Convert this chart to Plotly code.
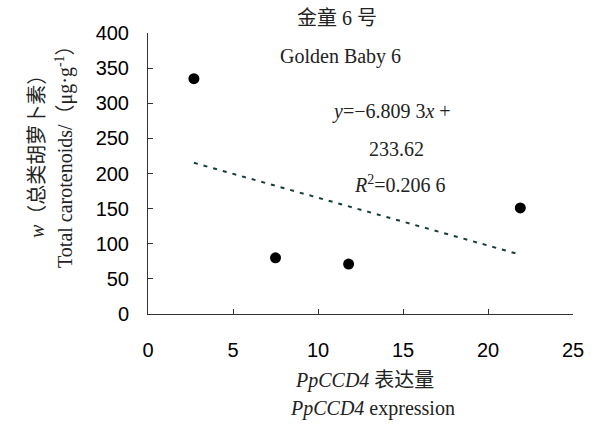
import plotly.graph_objects as go

# Data
expr = [2.7, 7.5, 11.8, 21.9]
carot = [335, 80, 71, 151]
slope = -6.8093
intercept = 233.62
trend_x = [min(expr), max(expr)]
trend_y = [slope * v + intercept for v in trend_x]

xticks = [0, 5, 10, 15, 20, 25]
yticks = [0, 50, 100, 150, 200, 250, 300, 350, 400]

SERIF = "Liberation Serif, Times New Roman, Noto Sans CJK SC, serif"
SANS = "Liberation Sans, Arial, sans-serif"
TXT = "#222222"

fig = go.Figure()
fig.add_trace(go.Scatter(x=trend_x, y=trend_y, mode="lines",
                         line=dict(color="#163c3c", width=2, dash="4px,6px"),
                         hoverinfo="skip", showlegend=False))
fig.add_trace(go.Scatter(x=expr, y=carot, mode="markers",
                         marker=dict(color="black", size=11),
                         showlegend=False))

fig.update_layout(
    width=598, height=428,
    margin=dict(l=148, r=25, t=33, b=114),
    paper_bgcolor="white", plot_bgcolor="white",
    xaxis=dict(range=[0, 25], tickvals=xticks, ticks="inside", ticklen=5,
               tickcolor="#333", showline=True, linecolor="#333", linewidth=1,
               showgrid=False, zeroline=False, ticklabelstandoff=18,
               tickfont=dict(family=SANS, size=20, color="black")),
    yaxis=dict(range=[0, 400], tickvals=yticks, ticks="inside", ticklen=5,
               tickcolor="#333", showline=True, linecolor="#333", linewidth=1,
               showgrid=False, zeroline=False, ticklabelstandoff=14,
               tickfont=dict(family=SANS, size=20, color="black")),
)

anns = [
    dict(text="金童 6 号", x=337, y=18),
    dict(text="Golden Baby 6", x=340, y=57),
    dict(text="<i>y</i>=−6.809 3<i>x</i> +", x=391, y=111),
    dict(text="233.62", x=396, y=149),
    dict(text="<i>R</i><sup>2</sup>=0.206 6", x=400, y=184),
    dict(text="<i>PpCCD4</i> 表达量", x=364, y=380),
    dict(text="<i>PpCCD4</i> expression", x=372, y=408),
]
for a in anns:
    fig.add_annotation(text=a["text"], xref="paper", yref="paper",
                       x=(a["x"] - 148) / (573 - 148),
                       y=(314 - a["y"]) / (314 - 33),
                       xanchor="center", yanchor="middle", showarrow=False,
                       font=dict(family=SERIF, size=20, color=TXT))

for txt, px in [("<i>w</i>（总类胡萝卜素）", 37), ("Total carotenoids/（μg·g<sup>-1</sup>）", 64)]:
    fig.add_annotation(text=txt, xref="paper", yref="paper",
                       x=(px - 148) / (573 - 148), y=(314 - 152) / (314 - 33),
                       xanchor="center", yanchor="middle", textangle=-90,
                       showarrow=False,
                       font=dict(family=SERIF, size=20, color=TXT))

fig.write_html("out.html")
